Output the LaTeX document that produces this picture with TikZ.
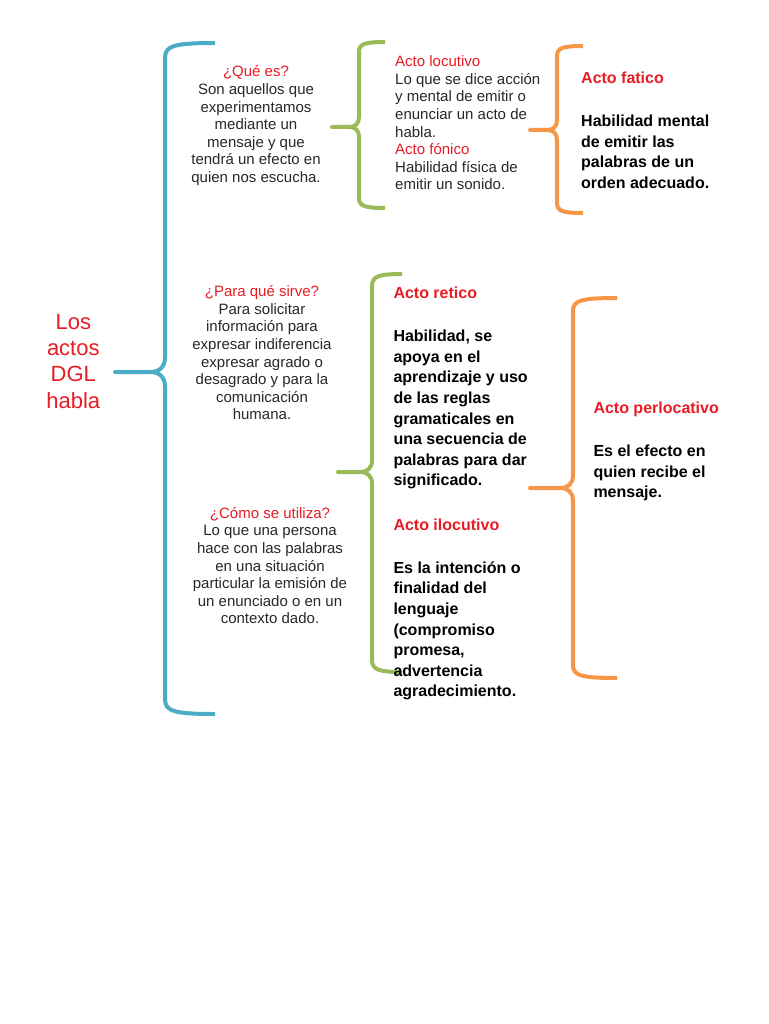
\documentclass[tikz,border=0pt]{standalone}
\usepackage{fontspec}
\setmainfont{Liberation Sans}
\definecolor{tred}{RGB}{232,28,36}
\definecolor{bblue}{RGB}{75,172,198}
\definecolor{bgreen}{RGB}{155,187,89}
\definecolor{borange}{RGB}{247,150,70}
\definecolor{tgray}{RGB}{40,40,40}
\newcommand{\smtxt}{\fontsize{15}{17.6}\selectfont}
\newcommand{\bdtxt}{\fontsize{16}{20.6}\selectfont\bfseries}
% #1 colour, #2 X, #3 Ytop, #4 Ymid, #5 Ybot, #6 Xend, #7 Xtip, #8 radius
\newcommand{\mybrak}[8]{%
  \draw[brk,#1] (#6,#3) .. controls ({#2+0.55*#8},#3) and (#2,{#3+0.2*#8}) .. (#2,{#3+#8})
    -- (#2,{#4-#8}) .. controls (#2,{#4-0.3*#8}) and ({#2-0.4*#8},#4) .. ({#2-#8},#4) -- (#7,#4)
    -- ({#2-#8},#4) .. controls ({#2-0.4*#8},#4) and (#2,{#4+0.3*#8}) .. (#2,{#4+#8})
    -- (#2,{#5-#8}) .. controls (#2,{#5-0.2*#8}) and ({#2+0.55*#8},#5) .. (#6,#5);}
\tikzset{
  brk/.style={line width=4pt, line join=round},
  ctxt/.style={inner sep=0pt, anchor=base, text=tgray},
  ltxt/.style={inner sep=0pt, anchor=base west, text=tgray},
  btxt/.style={inner sep=0pt, anchor=base west, text=black},
  bhead/.style={inner sep=0pt, anchor=base west, text=tred}
}
\begin{document}
\begin{tikzpicture}[x=1pt,y=-1pt]
\useasboundingbox[fill=white] (0,0) rectangle (768,1024);

% braces
\mybrak{bblue}{165}{43}{372}{714}{215}{115}{15}
\mybrak{bgreen}{359}{42}{127}{208}{385}{332}{10}
\mybrak{bgreen}{372}{274}{472}{672}{402}{338}{12}
\mybrak{borange}{557}{46}{130}{213}{583}{530}{10}
\mybrak{borange}{573}{298}{488}{678}{617}{530}{13}

% title
\node[inner sep=0pt, anchor=base, text=tred] (title) at (73.3,329.3)
  {\fontsize{22}{26.3}\selectfont\begin{tabular}[t]{@{}c@{}}Los\\actos\\DGL\\habla\end{tabular}};

% left column
\node[ctxt] (que) at (256,77) {\smtxt\begin{tabular}[t]{@{}c@{}}
  {\color{tred}¿Qué es?}\\Son aquellos que\\experimentamos\\mediante un\\mensaje y que\\tendrá un efecto en\\quien nos escucha.\end{tabular}};
\node[ctxt] (para) at (262,296.7) {\smtxt\begin{tabular}[t]{@{}c@{}}
  {\color{tred}¿Para qué sirve?}\\Para solicitar\\información para\\expresar indiferencia\\expresar agrado o\\desagrado y para la\\comunicación\\humana.\end{tabular}};
\node[ctxt] (como) at (270,518.3) {\smtxt\begin{tabular}[t]{@{}c@{}}
  {\color{tred}¿Cómo se utiliza?}\\Lo que una persona\\hace con las palabras\\en una situación\\particular la emisión de\\un enunciado o en un\\contexto dado.\end{tabular}};

% locutivo / fonico
\node[ltxt] (locut) at (395,66.7) {\smtxt\begin{tabular}[t]{@{}l@{}}
  {\color{tred}Acto locutivo}\\Lo que se dice acción\\y mental de emitir o\\enunciar un acto de\\habla.\\
  {\color{tred}Acto fónico}\\Habilidad física de\\emitir un sonido.\end{tabular}};

% fatico
\node[bhead] (fath) at (581,84) {\bdtxt Acto fatico};
\node[btxt] (fatb) at (581,126.7) {\bdtxt\begin{tabular}[t]{@{}l@{}}
  Habilidad mental\\de emitir las\\palabras de un\\orden adecuado.\end{tabular}};

% retico
\node[bhead] (reth) at (393.3,298.3) {\bdtxt Acto retico};
\node[btxt] (retb) at (393.3,341.7) {\bdtxt\begin{tabular}[t]{@{}l@{}}
  Habilidad, se\\apoya en el\\aprendizaje y uso\\de las reglas\\gramaticales en\\una secuencia de\\palabras para dar\\significado.\end{tabular}};

% ilocutivo
\node[bhead] (iloh) at (393.3,530) {\bdtxt Acto ilocutivo};
\node[btxt] (ilob) at (393.3,573.3) {\bdtxt\begin{tabular}[t]{@{}l@{}}
  Es la intención o\\finalidad del\\lenguaje\\(compromiso\\promesa,\\advertencia\\agradecimiento.\end{tabular}};

% perlocativo
\node[bhead] (perh) at (593.3,413.3) {\bdtxt Acto perlocativo};
\node[btxt] (perb) at (593.3,456.7) {\bdtxt\begin{tabular}[t]{@{}l@{}}
  Es el efecto en\\quien recibe el\\mensaje.\end{tabular}};
\end{tikzpicture}
\end{document}
